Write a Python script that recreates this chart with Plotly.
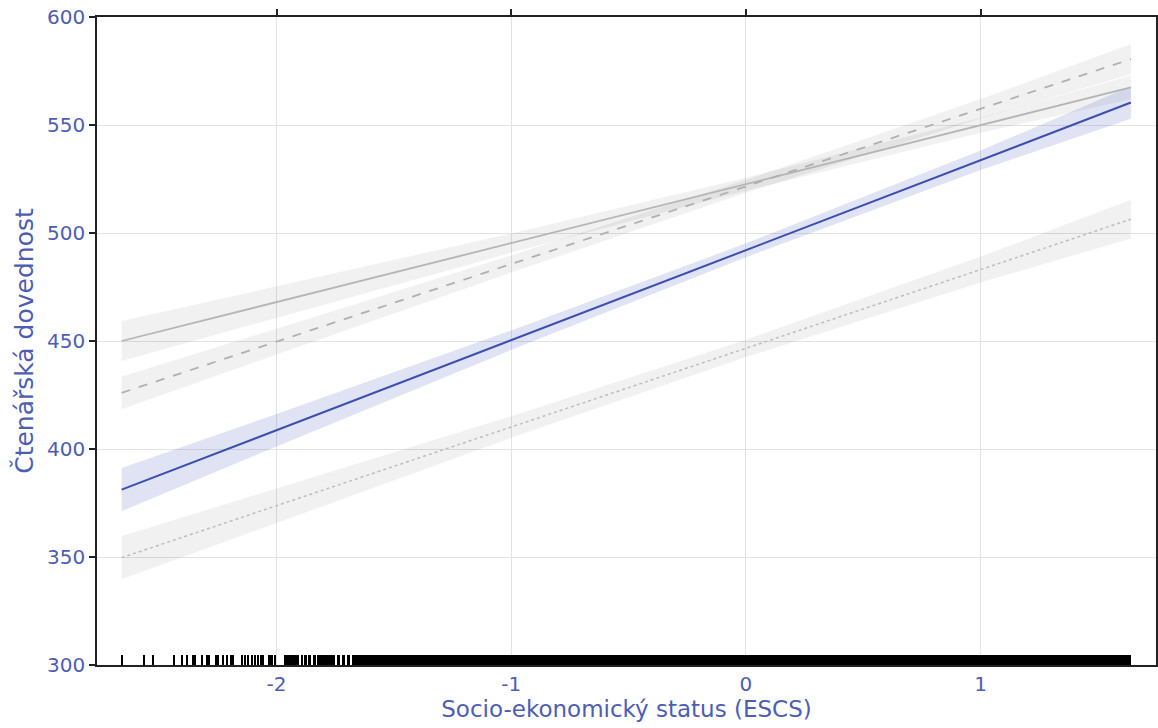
import plotly.graph_objects as go

# ---- data ----
x_band = [-2.66, -2.0, -1.0, 0.0, 1.0, 1.64]

blue_fit = [381.2, 408.7, 450.4, 492.0, 533.7, 560.4]
blue_hw = [10.0, 7.5, 4.5, 3.2, 4.5, 7.5]

solid_fit = [450.0, 468.0, 495.3, 522.6, 549.9, 567.4]
solid_hw = [9.3, 7.3, 4.5, 3.0, 3.5, 5.5]

dash_fit = [426.0, 449.7, 485.7, 521.6, 557.5, 580.5]
dash_hw = [7.6, 6.0, 4.0, 3.0, 4.5, 7.0]

dot_fit = [349.7, 373.7, 410.2, 446.6, 483.1, 506.4]
dot_hw = [10.0, 8.0, 5.0, 4.0, 6.0, 9.0]

# rug of observed ESCS values: centre and width of each mark / dense block
rug_x = [-2.657, -2.564, -2.525, -2.436, -2.404, -2.383, -2.357, -2.345, -2.319,
         -2.298, -2.287, -2.258, -2.248, -2.227, -2.210, -2.194, -2.184, -2.146,
         -2.132, -2.121, -2.106, -2.092, -2.078, -2.066, -2.057, -2.0255, -2.007,
         -1.9375, -1.893, -1.878, -1.860, -1.8385, -1.7895, -1.7365, -1.715,
         -1.6935, -0.0195]
rug_w = [0.005, 0.009, 0.005, 0.009, 0.009, 0.005, 0.005, 0.005, 0.005,
         0.009, 0.005, 0.005, 0.005, 0.005, 0.005, 0.005, 0.005, 0.005,
         0.005, 0.005, 0.005, 0.005, 0.005, 0.005, 0.005, 0.021, 0.005,
         0.065, 0.009, 0.012, 0.012, 0.013, 0.077, 0.013, 0.012,
         0.013, 3.319]
rug_len = 4.6

x_ticks = [-2, -1, 0, 1]
x_tick_text = ["-2", "-1", "0", "1"]
y_ticks = [300, 350, 400, 450, 500, 550, 600]

label_col = "#4d5db4"
font_fam = "'DejaVu Sans', sans-serif"
x_range = [-2.765, 1.747]

fig = go.Figure()


def ribbon(fit, hw, color):
    upper = [f + h for f, h in zip(fit, hw)]
    lower = [f - h for f, h in zip(fit, hw)]
    fig.add_trace(go.Scatter(x=x_band + x_band[::-1], y=upper + lower[::-1],
                             fill="toself", fillcolor=color, mode="none",
                             hoverinfo="skip", showlegend=False))


ribbon(solid_fit, solid_hw, "rgba(0,0,0,0.055)")
ribbon(dash_fit, dash_hw, "rgba(0,0,0,0.055)")
ribbon(dot_fit, dot_hw, "rgba(0,0,0,0.055)")
ribbon(blue_fit, blue_hw, "rgba(63,81,181,0.16)")

fig.add_trace(go.Scatter(x=x_band, y=solid_fit, mode="lines",
                         line=dict(color="#b5b5b5", width=1.8), showlegend=False))
fig.add_trace(go.Scatter(x=x_band, y=dash_fit, mode="lines",
                         line=dict(color="#b0b0b0", width=1.8, dash="dash"), showlegend=False))
fig.add_trace(go.Scatter(x=x_band, y=dot_fit, mode="lines",
                         line=dict(color="#bdbdbd", width=1.5, dash="dot"), showlegend=False))
fig.add_trace(go.Scatter(x=x_band, y=blue_fit, mode="lines",
                         line=dict(color="#3a4fb0", width=2), showlegend=False))

# rug drawn on the top-overlay x axis (same range) so that axis is rendered
fig.add_trace(go.Bar(x=rug_x, width=rug_w, y=[rug_len] * len(rug_x), base=300,
                     xaxis="x2",
                     marker=dict(color="black", line=dict(width=0)),
                     hoverinfo="skip", showlegend=False))

fig.update_layout(
    width=1158, height=728,
    margin=dict(l=97, r=2, t=17, b=63),
    plot_bgcolor="white", paper_bgcolor="white",
    font=dict(family=font_fam, color=label_col, size=20),
    xaxis=dict(range=x_range, tickvals=x_ticks, ticktext=x_tick_text,
               showgrid=True, gridcolor="#e3e3e3", gridwidth=1,
               showline=True, linecolor="#222", linewidth=1.5, mirror=True,
               ticks="", zeroline=False, automargin=False,
               title=dict(text="Socio-ekonomický status (ESCS)", standoff=4,
                          font=dict(size=23, color=label_col)),
               tickfont=dict(size=20, color=label_col)),
    xaxis2=dict(range=x_range, overlaying="x", side="top",
                tickvals=x_ticks, showticklabels=False, ticks="outside",
                ticklen=7, tickcolor="#222", tickwidth=1.5, automargin=False,
                showgrid=False, showline=False, zeroline=False),
    yaxis=dict(range=[300, 600], tickvals=y_ticks,
               showgrid=True, gridcolor="#e3e3e3", gridwidth=1,
               showline=True, linecolor="#222", linewidth=1.5, mirror="ticks",
               ticks="outside", ticklen=6, tickcolor="#222", tickwidth=1.5,
               zeroline=False, automargin=False, ticklabeloverflow="allow",
               title=dict(text="Čtenářská dovednost", standoff=6,
                          font=dict(size=25, color=label_col)),
               tickfont=dict(size=20, color=label_col)),
    bargap=0,
)

fig.write_html("out.html", config={"displayModeBar": False},
               post_script="document.body.style.margin='0';")
